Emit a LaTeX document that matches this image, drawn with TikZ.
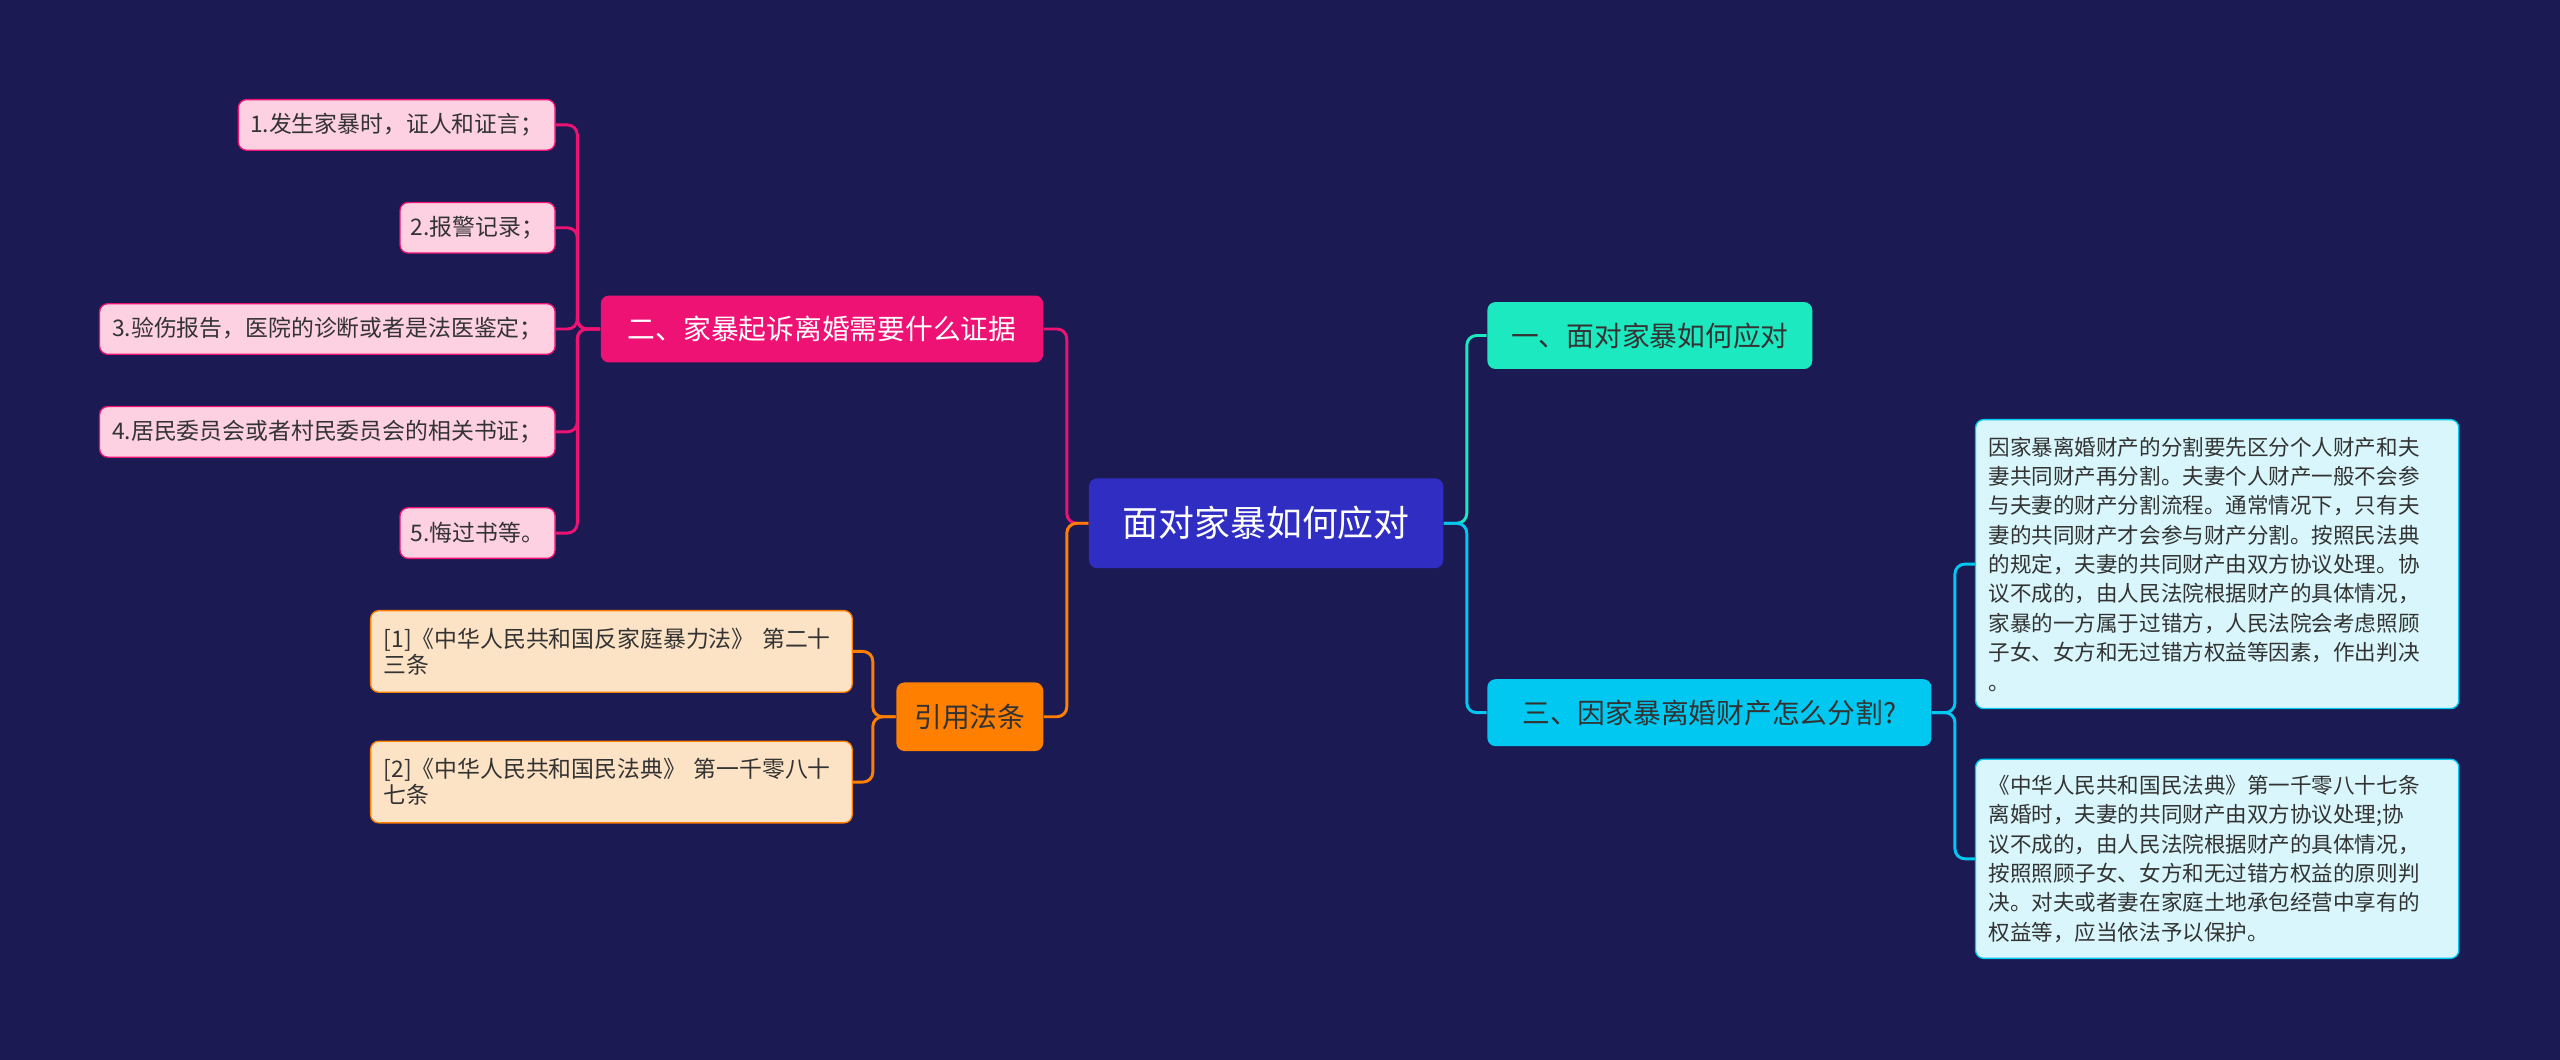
\documentclass[tikz,border=0pt]{standalone}
\usepackage{fontspec}
\setmainfont{Noto Sans CJK SC}
\definecolor{bg}{HTML}{1B1A52}
\definecolor{cen}{HTML}{2F2DC2}
\definecolor{teal}{HTML}{1DE9C0}
\definecolor{cyan}{HTML}{00C8F0}
\definecolor{lcyan}{HTML}{D8F6FB}
\definecolor{pink}{HTML}{EE1275}
\definecolor{lpink}{HTML}{FDD0E2}
\definecolor{orng}{HTML}{FF7F00}
\definecolor{lorng}{HTML}{FDE3C6}
\definecolor{txt}{HTML}{333333}
\begin{document}
\begin{tikzpicture}[x=0.5pt,y=-0.5pt,
 box/.style={rounded corners=2.5pt,inner sep=0pt,minimum width=#1},
 leafp/.style={box=#1,fill=lpink,draw=pink,line width=0.4pt,minimum height=15.5pt,font=\fontsize{7}{9}\selectfont,text=txt},
 leafo/.style={box=#1,fill=lorng,draw=orng,line width=0.4pt,minimum height=25pt,font=\fontsize{7}{8}\selectfont,text=txt,align=left,text width=#1-8pt},
 leafc/.style={box=#1,fill=lcyan,draw=cyan,line width=0.4pt,font=\fontsize{6.6}{9}\selectfont,text=txt,align=left,text width=#1-8pt},
 con/.style={line width=0.9pt,rounded corners=3pt}]
\fill[bg] (0,0) rectangle (1568,649);
\node[box=108.5pt,minimum height=27.5pt,fill=cen,text=white,font=\fontsize{11}{13}\selectfont] (c) at (775.5,320.5) {面对家暴如何应对};
\node[box=99.5pt,minimum height=20.5pt,fill=teal,text=txt,font=\fontsize{8.5}{10}\selectfont] (r1) at (1010.5,205.5) {一、面对家暴如何应对};
\node[box=136pt,minimum height=20.5pt,fill=cyan,text=txt,font=\fontsize{8.5}{10}\selectfont] (r2) at (1047,436.5) {三、因家暴离婚财产怎么分割?};
\node[leafc=148pt,minimum height=88.5pt] (r21) at (1358,345.5) {因家暴离婚财产的分割要先区分个人财产和夫\\妻共同财产再分割。夫妻个人财产一般不会参\\与夫妻的财产分割流程。通常情况下，只有夫\\妻的共同财产才会参与财产分割。按照民法典\\的规定，夫妻的共同财产由双方协议处理。协\\议不成的，由人民法院根据财产的具体情况，\\家暴的一方属于过错方，人民法院会考虑照顾\\子女、女方和无过错方权益等因素，作出判决\\。};
\node[leafc=148pt,minimum height=61pt] (r22) at (1358,526) {《中华人民共和国民法典》第一千零八十七条\\离婚时，夫妻的共同财产由双方协议处理;协\\议不成的，由人民法院根据财产的具体情况，\\按照照顾子女、女方和无过错方权益的原则判\\决。对夫或者妻在家庭土地承包经营中享有的\\权益等，应当依法予以保护。};
\node[box=135.5pt,minimum height=20.5pt,fill=pink,text=white,font=\fontsize{8.5}{10}\selectfont] (l1) at (503.5,201.5) {二、家暴起诉离婚需要什么证据};
\node[leafp=97pt] (p1) at (243,76.5) {1.发生家暴时，证人和证言；};
\node[leafp=47.5pt] (p2) at (292.5,139.5) {2.报警记录；};
\node[leafp=139.5pt] (p3) at (200.5,201.5) {3.验伤报告，医院的诊断或者是法医鉴定；};
\node[leafp=139.5pt] (p4) at (200.5,264.5) {4.居民委员会或者村民委员会的相关书证；};
\node[leafp=47.5pt] (p5) at (292.5,326.5) {5.悔过书等。};
\node[box=45pt,minimum height=21pt,fill=orng,text=txt,font=\fontsize{8.5}{10}\selectfont] (l2) at (594,439) {引用法条};
\node[leafo=147.5pt] (o1) at (374.5,399) {[1]《中华人民共和国反家庭暴力法》 第二十\\三条};
\node[leafo=147.5pt] (o2) at (374.5,479) {[2]《中华人民共和国民法典》 第一千零八十\\七条};
\draw[con,pink] (l1.east) -- ++(14,0) |- (c.west);
\draw[con,orng] (l2.east) -- ++(14,0) |- (c.west);
\foreach \p in {p1,p2,p3,p4,p5} \draw[con,pink] (l1.west) -- ++(-14,0) |- (\p.east);
\foreach \p in {o1,o2} \draw[con,orng] (l2.west) -- ++(-14,0) |- (\p.east);
\draw[con,teal] (c.east) -- ++(14,0) |- (r1.west);
\draw[con,cyan] (c.east) -- ++(14,0) |- (r2.west);
\foreach \p in {r21,r22} \draw[con,cyan] (r2.east) -- ++(14,0) |- (\p.west);
\end{tikzpicture}
\end{document}
